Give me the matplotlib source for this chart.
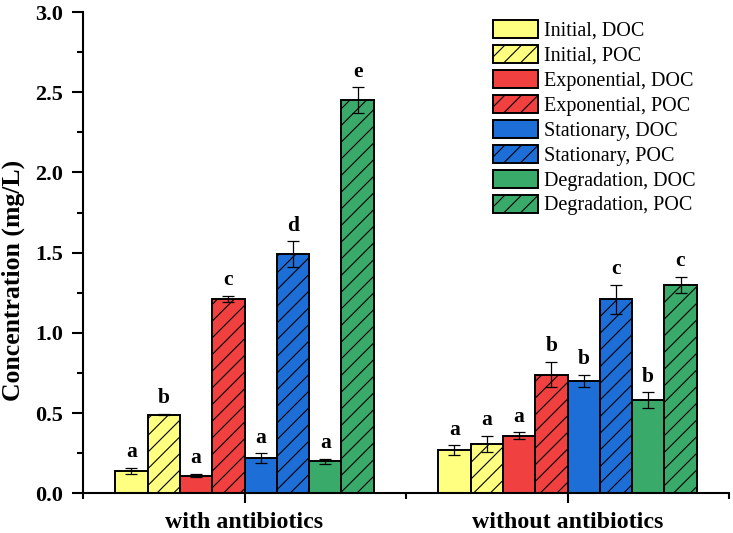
import matplotlib
matplotlib.use("Agg")
import matplotlib.pyplot as plt
import numpy as np
from matplotlib.ticker import MultipleLocator, FixedLocator, FormatStrFormatter

plt.rcParams['font.family'] = ['Liberation Serif', 'DejaVu Serif']
plt.rcParams['hatch.linewidth'] = 0.8
plt.rcParams['hatch.color'] = 'black'

groups = ["with antibiotics", "without antibiotics"]
series = ["Initial, DOC", "Initial, POC", "Exponential, DOC", "Exponential, POC",
          "Stationary, DOC", "Stationary, POC", "Degradation, DOC", "Degradation, POC"]
with_ab = [0.14, 0.49, 0.11, 1.21, 0.22, 1.49, 0.20, 2.45]
with_ab_err = [0.02, 0.005, 0.01, 0.02, 0.03, 0.08, 0.015, 0.08]
without_ab = [0.27, 0.31, 0.36, 0.74, 0.70, 1.21, 0.58, 1.30]
without_ab_err = [0.03, 0.05, 0.02, 0.08, 0.04, 0.09, 0.05, 0.05]
letters_with = ["a", "b", "a", "c", "a", "d", "a", "e"]
letters_without = ["a", "a", "a", "b", "b", "c", "b", "c"]

colors = ["#FFFF80", "#FFFF80", "#F04040", "#F04040",
          "#1E6ED8", "#1E6ED8", "#3AAA6A", "#3AAA6A"]
hatches = ["", "//", "", "//", "", "//", "", "//"]

W, H = 733, 533
fig = plt.figure(figsize=(W / 100, H / 100), dpi=100)
ax = fig.add_axes([83 / W, (H - 493.3) / H, (729 - 83) / W, (493.3 - 12) / H])

centers = np.array([1.0, 3.0])
w = 0.2
vals = np.array([with_ab, without_ab])
errs = np.array([with_ab_err, without_ab_err])
lets = [letters_with, letters_without]

for i in range(8):
    x = centers + (i - 3.5) * w
    ax.bar(x, vals[:, i], width=w, color=colors[i], edgecolor='black',
           linewidth=1.4, hatch=hatches[i], label=series[i], zorder=2)
    ax.errorbar(x, vals[:, i], yerr=errs[:, i], fmt='none', ecolor='black',
                elinewidth=0.9, capsize=4, capthick=0.9, zorder=3)
    for g in range(2):
        ax.text(x[g], vals[g, i] + errs[g, i] + 0.035, lets[g][i], ha='center',
                va='bottom', fontsize=15.5, fontweight='bold')

ax.set_xlim(0, 4)
ax.set_ylim(0, 3.0)
ax.xaxis.set_major_locator(FixedLocator([1, 3]))
ax.xaxis.set_minor_locator(FixedLocator([0, 2, 4]))
ax.set_xticklabels(groups, fontsize=17.2, fontweight='bold')
ax.yaxis.set_major_locator(MultipleLocator(0.5))
ax.yaxis.set_minor_locator(MultipleLocator(0.25))
ax.yaxis.set_major_formatter(FormatStrFormatter('%.1f'))
for lab in ax.get_yticklabels():
    lab.set_fontweight('bold')
    lab.set_fontsize(16)
ax.tick_params(axis='y', which='major', direction='out', length=7.7, width=1.5, pad=6.5)
ax.tick_params(axis='y', which='minor', direction='out', length=4.3, width=1.5)
ax.tick_params(axis='x', which='major', direction='out', length=7, width=1.5, pad=6.5)
ax.tick_params(axis='x', which='minor', direction='out', length=4, width=1.5)
ax.set_ylabel("Concentration (mg/L)", fontsize=18.5, fontweight='bold')
ax.yaxis.set_label_coords((25 - 83) / 646, (493.3 - 280) / 481.3)

for s in ['top', 'right']:
    ax.spines[s].set_visible(False)
for s in ['left', 'bottom']:
    ax.spines[s].set_linewidth(1.5)

ax.legend(loc='upper left', bbox_to_anchor=(493 / W, 1 - 20 / H),
          bbox_transform=fig.transFigure, frameon=False,
          fontsize=14.5, handlelength=2.25, handleheight=1.0, labelspacing=0.2,
          handletextpad=0.3, borderaxespad=0, borderpad=0)

fig.savefig("out.png", dpi=100)
